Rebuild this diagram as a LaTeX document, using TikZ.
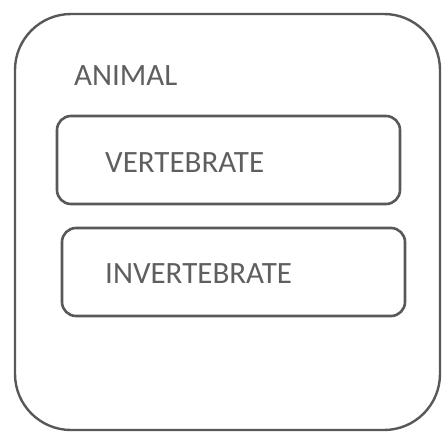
\documentclass[tikz,border=0pt]{standalone}
\usepackage{fontspec}
\setmainfont{Carlito}
\definecolor{linegray}{RGB}{88,88,88}
\definecolor{textgray}{RGB}{95,95,95}
\begin{document}
\begin{tikzpicture}[
                    x=1pt, y=-1pt,
                    box/.style={draw=linegray, line width=2.6pt, rectangle, rounded corners=14pt, minimum width=343pt, minimum height=88pt},
                    outerbox/.style={draw=linegray, line width=2.4pt, rectangle, rounded corners=56pt, minimum width=425pt, minimum height=416pt},
                    lbl/.style={text=textgray, font=\fontsize{31}{31}\selectfont, inner sep=0pt, anchor=base west}
                    ]
        \useasboundingbox (0,0) rectangle (442,432);

        \node [outerbox] (animal) at (227.5,222) {};
        \node [lbl] (animallabel) at (74,85) {ANIMAL};

        \node [box] (vert) at (228.5,160) {};
        \node [lbl] (vertlabel) at (105,172) {VERTEBRATE};

        \node [box] (invert) at (233.5,272) {};
        \node [lbl] (invertlabel) at (105,283) {INVERTEBRATE};
\end{tikzpicture}
\end{document}
